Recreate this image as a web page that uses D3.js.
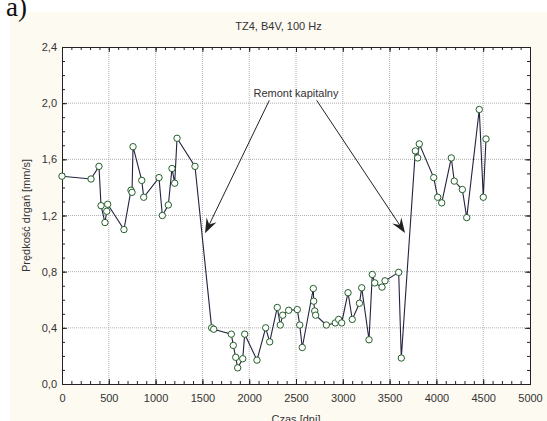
<!DOCTYPE html>
<html><head><meta charset="utf-8">
<script src="https://cdn.jsdelivr.net/npm/d3@7/dist/d3.min.js"></script>
<style>body{margin:0;background:#fff;overflow:hidden}svg{display:block}</style>
</head><body><svg id="c" width="547" height="421"></svg>
<script>
const title = "TZ4, B4V, 100 Hz";
const xLabel = "Czas [dni]";
const yLabel = "Prędkość drgań [mm/s]";
const panelLabel = "a)";
const annotationText = "Remont kapitalny";

const days = [0, 310, 395, 417, 459, 478, 488, 662, 737, 748, 759, 852, 873, 1036, 1072, 1136, 1175, 1204, 1229, 1421,
  1599, 1621, 1809, 1830, 1856, 1877, 1931, 1952, 2083, 2176, 2219, 2300, 2332, 2358, 2422, 2514, 2540, 2567,
  2685, 2689, 2700, 2710, 2824, 2920, 2956, 2988, 3056, 3101, 3178, 3202, 3280, 3315, 3341, 3419, 3451, 3597, 3625,
  3775, 3800, 3817, 3971, 4014, 4057, 4159, 4191, 4277, 4324, 4458, 4501, 4530];
const velocity = [1.48, 1.46, 1.55, 1.27, 1.15, 1.23, 1.28, 1.10, 1.38, 1.365, 1.69, 1.45, 1.33, 1.47, 1.20, 1.275, 1.535, 1.43, 1.75, 1.55,
  0.40, 0.39, 0.355, 0.275, 0.19, 0.115, 0.18, 0.355, 0.17, 0.40, 0.30, 0.545, 0.42, 0.49, 0.525, 0.53, 0.42, 0.26,
  0.68, 0.59, 0.52, 0.49, 0.42, 0.435, 0.46, 0.435, 0.65, 0.46, 0.575, 0.685, 0.315, 0.78, 0.72, 0.69, 0.735, 0.795, 0.185,
  1.66, 1.61, 1.71, 1.47, 1.33, 1.29, 1.61, 1.445, 1.385, 1.185, 1.955, 1.33, 1.745];

const xTicks = [0, 500, 1000, 1500, 2000, 2500, 3000, 3500, 4000, 4500, 5000];
const yTicks = [0.0, 0.4, 0.8, 1.2, 1.6, 2.0, 2.4];
const xDomain = [0, 5000];
const yDomain = [0, 2.4];

// annotation: text anchor and two arrows (start -> tip) in data units
const annotationAt = [2500, 2.075];
const arrowStarts = [[2215, 2.02], [2721, 2.02]];
const arrowTips = [[1528, 1.073], [3665, 1.075]];

const svg = d3.select("#c");
const W = 547, H = 421;
const m = {left: 62, right: 17, top: 47, bottom: 37};
const x = d3.scaleLinear().domain(xDomain).range([m.left, W - m.right]);
const y = d3.scaleLinear().domain(yDomain).range([H - m.bottom, m.top]);
const font = "'Liberation Sans', Arial, sans-serif";

// cream panel
svg.append("rect").attr("x", 10).attr("y", 12).attr("width", W - 10).attr("height", H - 12).attr("fill", "#fdfaf1");
svg.append("text").attr("x", 6).attr("y", 16).attr("font-family", "'Liberation Serif', 'Times New Roman', serif")
  .attr("font-size", 27).attr("fill", "#111").text(panelLabel);

// plot area
svg.append("rect").attr("x", x(0)).attr("y", y(2.4)).attr("width", x(5000) - x(0)).attr("height", y(0) - y(2.4)).attr("fill", "#fff");

// grid
const g = svg.append("g");
g.selectAll(".gx").data(xTicks.slice(1, -1)).join("line")
  .attr("x1", d => x(d)).attr("x2", d => x(d)).attr("y1", y(0)).attr("y2", y(2.4))
  .attr("stroke", "#b0b0b0").attr("stroke-width", 1).attr("stroke-dasharray", "1,1");
g.selectAll(".gy").data(yTicks.slice(1, -1)).join("line")
  .attr("x1", x(0)).attr("x2", x(5000)).attr("y1", d => y(d)).attr("y2", d => y(d))
  .attr("stroke", "#b0b0b0").attr("stroke-width", 1).attr("stroke-dasharray", "1,1");

// axes with inward ticks
const fmtY = d => d3.format(".1f")(d).replace(".", ",");
const xMinor = d3.range(0, 5001, 100);
const yMinor = d3.range(0, 24.01, 1).map(v => v / 10);
function ticksAxis(axisFn, scale, vals, size) {
  return axisFn(scale).tickValues(vals).tickSize(size).tickFormat("");
}
const axG = svg.append("g").attr("font-family", font);
axG.append("g").attr("transform", `translate(0,${y(0)})`).call(ticksAxis(d3.axisTop, x, xMinor, 3));
axG.append("g").attr("transform", `translate(0,${y(0)})`).call(ticksAxis(d3.axisTop, x, xTicks, 5));
axG.append("g").attr("transform", `translate(0,${y(2.4)})`).call(ticksAxis(d3.axisBottom, x, xMinor, 3));
axG.append("g").attr("transform", `translate(0,${y(2.4)})`).call(ticksAxis(d3.axisBottom, x, xTicks, 5));
axG.append("g").attr("transform", `translate(${x(0)},0)`).call(ticksAxis(d3.axisRight, y, yMinor, 3));
axG.append("g").attr("transform", `translate(${x(0)},0)`).call(ticksAxis(d3.axisRight, y, yTicks, 5));
axG.append("g").attr("transform", `translate(${x(5000)},0)`).call(ticksAxis(d3.axisLeft, y, yMinor, 3));
axG.append("g").attr("transform", `translate(${x(5000)},0)`).call(ticksAxis(d3.axisLeft, y, yTicks, 5));
axG.selectAll("path.domain").attr("stroke", "#222");
axG.selectAll(".tick line").attr("stroke", "#222");

// tick labels
axG.append("g").attr("transform", `translate(0,${y(0)})`)
  .call(d3.axisBottom(x).tickValues(xTicks).tickSize(0).tickPadding(10).tickFormat(d3.format("d")))
  .call(a => a.select(".domain").remove())
  .selectAll("text").attr("font-size", 11).attr("fill", "#333").attr("font-family", font);
axG.append("g").attr("transform", `translate(${x(0)},0)`)
  .call(d3.axisLeft(y).tickValues(yTicks).tickSize(0).tickPadding(5).tickFormat(fmtY))
  .call(a => a.select(".domain").remove())
  .selectAll("text").attr("font-size", 11).attr("fill", "#333").attr("font-family", font);

// titles
svg.append("text").attr("x", 278.5).attr("y", 30).attr("text-anchor", "middle")
  .attr("font-family", font).attr("font-size", 11).attr("fill", "#333").text(title);
svg.append("text").attr("x", (x(0) + x(5000)) / 2).attr("y", 423).attr("text-anchor", "middle")
  .attr("font-family", font).attr("font-size", 11).attr("fill", "#333").text(xLabel);
svg.append("text").attr("transform", `translate(30,${(y(0) + y(2.4)) / 2}) rotate(-90)`).attr("text-anchor", "middle")
  .attr("font-family", font).attr("font-size", 11).attr("fill", "#333").text(yLabel);

// series
const pts = days.map((d, i) => [d, velocity[i]]);
svg.append("path").datum(pts)
  .attr("d", d3.line().x(d => x(d[0])).y(d => y(d[1])))
  .attr("fill", "none").attr("stroke", "#23233f").attr("stroke-width", 1.1);
svg.append("g").selectAll("circle").data(pts).join("circle")
  .attr("cx", d => x(d[0])).attr("cy", d => y(d[1])).attr("r", 3.2)
  .attr("fill", "#fff").attr("stroke", "#235f2a").attr("stroke-width", 1);

// annotation
svg.append("text").attr("x", x(annotationAt[0])).attr("y", y(annotationAt[1]) + 4).attr("text-anchor", "middle")
  .attr("font-family", font).attr("font-size", 11).attr("fill", "#333").text(annotationText);
arrowStarts.forEach((s, i) => {
  const t = arrowTips[i];
  const sx = x(s[0]), sy = y(s[1]), tx = x(t[0]), ty = y(t[1]);
  const len = Math.hypot(tx - sx, ty - sy);
  const ux = (tx - sx) / len, uy = (ty - sy) / len;
  const nx = -uy, ny = ux;
  const L = 15, Wd = 5.5;
  svg.append("line").attr("x1", sx).attr("y1", sy).attr("x2", tx - ux * 8).attr("y2", ty - uy * 8)
    .attr("stroke", "#222").attr("stroke-width", 1);
  const p = [[tx, ty], [tx - L * ux + Wd * nx, ty - L * uy + Wd * ny], [tx - 0.65 * L * ux, ty - 0.65 * L * uy],
    [tx - L * ux - Wd * nx, ty - L * uy - Wd * ny]];
  svg.append("path").attr("d", "M" + p.map(q => q.join(",")).join("L") + "Z").attr("fill", "#222");
});
</script></body></html>
